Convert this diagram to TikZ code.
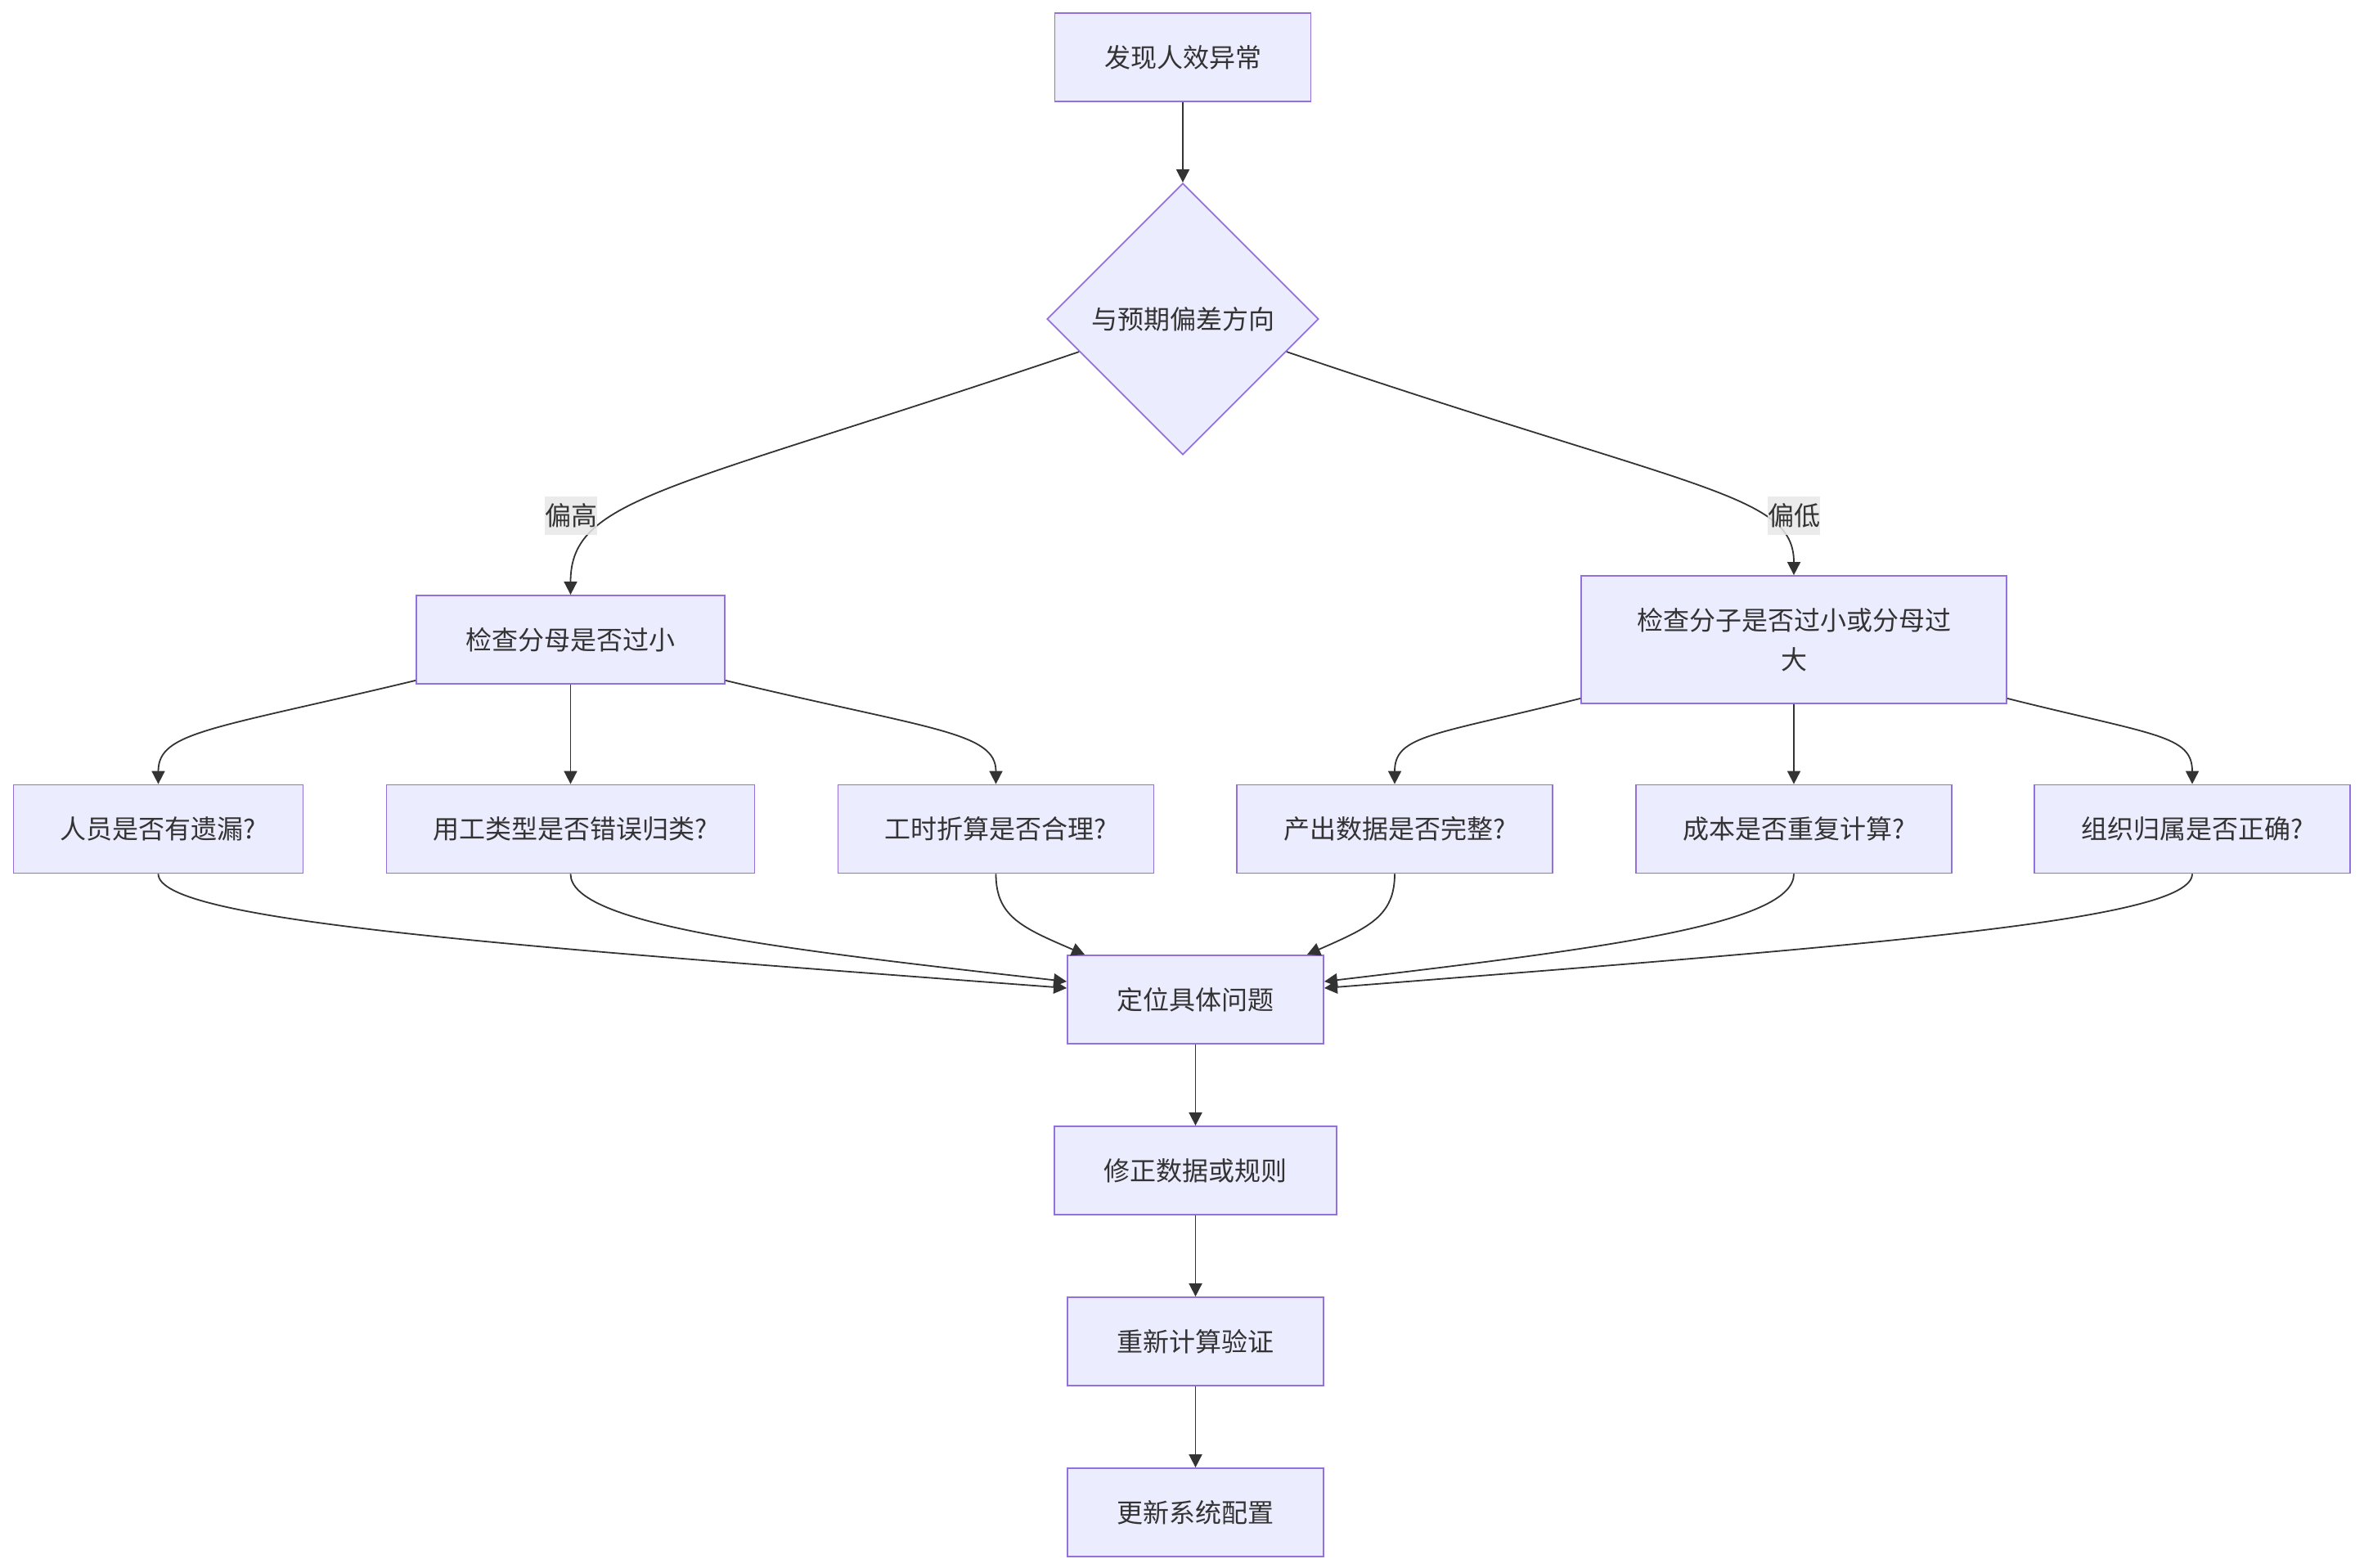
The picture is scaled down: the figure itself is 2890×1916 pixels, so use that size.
\documentclass[tikz,border=0pt]{standalone}
\usepackage{fontspec}
\setmainfont{Noto Sans CJK SC}
\usetikzlibrary{shapes.geometric,arrows.meta,calc}
\definecolor{nodefill}{HTML}{ECECFF}
\definecolor{nodeborder}{HTML}{9370DB}
\definecolor{edgecol}{HTML}{333333}
\definecolor{labelbg}{HTML}{E8E8E8}
\begin{document}
\begin{tikzpicture}[x=1pt,y=-1pt,
  box/.style={draw=nodeborder, fill=nodefill, line width=1.8pt, minimum height=108pt,
    inner sep=0pt, font=\fontsize{32}{48}\selectfont, text=edgecol, align=center},
  dia/.style={diamond, draw=nodeborder, fill=nodefill, line width=1.8pt,
    minimum width=332pt, minimum height=332pt, inner sep=0pt,
    font=\fontsize{32}{48}\selectfont, text=edgecol},
  arr/.style={draw=edgecol, line width=1.8pt, -{Triangle[length=16pt,width=16pt]}},
  elabel/.style={fill=labelbg, fill opacity=0.85, text opacity=1, text=edgecol, inner sep=0pt,
    minimum width=64pt, minimum height=47pt, font=\fontsize{32}{48}\selectfont}
]
\fill[white] (0,0) rectangle (2890,1916);
\useasboundingbox (0,0) rectangle (2890,1916);

% nodes
\node[box, minimum width=313pt] (a) at (1446,70) {发现人效异常};
\node[dia] (b) at (1446,390) {与预期偏差方向};
\node[box, minimum width=377pt] (c) at (697.5,782) {检查分母是否过小};
\node[box, minimum width=520pt, minimum height=156pt] (d) at (2193,782) {检查分子是否过小或分母过\\大};
\node[box, minimum width=354pt] (e1) at (193.5,1013.5) {人员是否有遗漏?};
\node[box, minimum width=450pt] (e2) at (697.5,1013.5) {用工类型是否错误归类?};
\node[box, minimum width=386pt] (e3) at (1217.5,1013.5) {工时折算是否合理?};
\node[box, minimum width=386pt] (e4) at (1705,1013.5) {产出数据是否完整?};
\node[box, minimum width=386pt] (e5) at (2193,1013.5) {成本是否重复计算?};
\node[box, minimum width=386pt] (e6) at (2680,1013.5) {组织归属是否正确?};
\node[box, minimum width=313pt] (f) at (1461.5,1222) {定位具体问题};
\node[box, minimum width=345pt] (g) at (1461.5,1431) {修正数据或规则};
\node[box, minimum width=313pt] (h) at (1461.5,1640) {重新计算验证};
\node[box, minimum width=313pt] (i) at (1461.5,1849) {更新系统配置};

% edges
\draw[arr] (a.south) -- (b.north);
\draw[arr] ($(b.west)!0.24!(b.south)$) .. controls +(-500,170) and +(0,-120) .. (c.north);
\draw[arr] ($(b.east)!0.24!(b.south)$) .. controls +(500,170) and +(0,-100) .. (d.north);

\draw[arr] ($(c.south west)+(0,-5)$) .. controls +(-250,60) and +(0,-64) .. (e1.north);
\draw[arr] (c.south) -- (e2.north);
\draw[arr] ($(c.south east)+(0,-5)$) .. controls +(250,60) and +(0,-64) .. (e3.north);
\draw[arr] ($(d.south west)+(0,-7)$) .. controls +(-180,45) and +(0,-60) .. (e4.north);
\draw[arr] (d.south) -- (e5.north);
\draw[arr] ($(d.south east)+(0,-7)$) .. controls +(180,45) and +(0,-60) .. (e6.north);

\draw[arr] (e1.south) .. controls +(0,57) and +(-705,-53) .. ($(f.west)+(0,-14)$);
\draw[arr] (e2.south) .. controls +(0,62) and +(-355,-40) .. ($(f.west)+(0,-22)$);
\draw[arr] (e3.south) .. controls +(0,52) and +(-77,-33) .. ($(f.north west)+(22,0)$);
\draw[arr] (e4.south) .. controls +(0,52) and +(75,-33) .. ($(f.north east)+(-21,0)$);
\draw[arr] (e5.south) .. controls +(0,62) and +(337,-40) .. ($(f.east)+(0,-22)$);
\draw[arr] (e6.south) .. controls +(0,57) and +(674,-53) .. ($(f.east)+(0,-14)$);

\draw[arr] (f.south) -- (g.north);
\draw[arr] (g.south) -- (h.north);
\draw[arr] (h.south) -- (i.north);

% edge labels
\node[elabel] (lh) at (698,630) {偏高};
\node[elabel] (ll) at (2193,630) {偏低};
\end{tikzpicture}
\end{document}
